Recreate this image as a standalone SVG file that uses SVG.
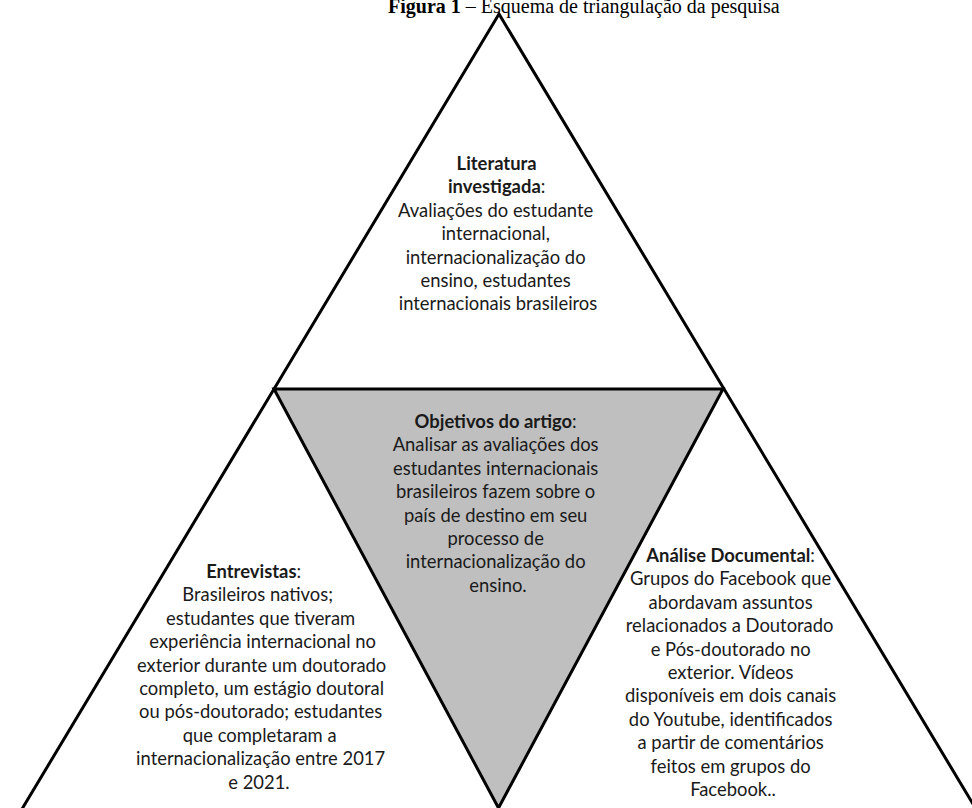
<svg xmlns="http://www.w3.org/2000/svg" width="972" height="808" viewBox="0 0 972 808">
  <style>
    .caption { font-family: "Liberation Serif", "Times New Roman", serif; font-size: 20px; fill: #000; }
    .label { font-family: Lato, "Liberation Sans", sans-serif; font-size: 18.4px; fill: #1a1a1a; text-anchor: middle; }
    .label .head { font-weight: bold; }
    .edge { stroke: #000; stroke-width: 3; stroke-linejoin: miter; }
  </style>
  <rect width="972" height="808" fill="#fff"/>

  <!-- Caption -->
  <g id="title">
    <text class="caption" x="388" y="13"><tspan font-weight="bold">Figura 1</tspan> – Esquema de triangulação da pesquisa</text>
  </g>

  <!-- Triangle frame -->
  <g id="shapes">
    <polygon id="outer" class="edge" fill="none" points="499,14 10,829 988,829"/>
    <polygon id="inner" class="edge" fill="#bfbfbf" points="274,389 723,389 498.5,808"/>
  </g>

  <g id="node-literatura">
    <text class="label">
      <tspan x="499" y="170" class="head">Literatura</tspan>
      <tspan x="499" y="193.4"><tspan class="head">investigada</tspan>:</tspan>
      <tspan x="498" y="216.8">Avaliações do estudante</tspan>
      <tspan x="498" y="240.2">internacional,</tspan>
      <tspan x="498" y="263.6">internacionalização do</tspan>
      <tspan x="498" y="287">ensino, estudantes</tspan>
      <tspan x="498" y="310.4">internacionais brasileiros</tspan>
    </text>
  </g>

  <g id="node-objetivos">
    <text class="label">
      <tspan x="498" y="428"><tspan class="head">Objetivos do artigo</tspan>:</tspan>
      <tspan x="498" y="451.4">Analisar as avaliações dos</tspan>
      <tspan x="498" y="474.8">estudantes internacionais</tspan>
      <tspan x="498" y="498.2">brasileiros fazem sobre o</tspan>
      <tspan x="498" y="521.6">país de destino em seu</tspan>
      <tspan x="498" y="545">processo de</tspan>
      <tspan x="498" y="568.4">internacionalização do</tspan>
      <tspan x="498" y="591.8">ensino.</tspan>
    </text>
  </g>

  <g id="node-entrevistas">
    <text class="label">
      <tspan x="256" y="578"><tspan class="head">Entrevistas</tspan>:</tspan>
      <tspan x="260" y="601.4">Brasileiros nativos;</tspan>
      <tspan x="263" y="624.8">estudantes que tiveram</tspan>
      <tspan x="265" y="648.2">experiência internacional no</tspan>
      <tspan x="264" y="671.6">exterior durante um doutorado</tspan>
      <tspan x="264" y="695">completo, um estágio doutoral</tspan>
      <tspan x="263" y="718.4">ou pós-doutorado; estudantes</tspan>
      <tspan x="262" y="741.8">que completaram a</tspan>
      <tspan x="263" y="765.2">internacionalização entre 2017</tspan>
      <tspan x="259" y="788.6">e 2021.</tspan>
    </text>
  </g>

  <g id="node-analise">
    <text class="label">
      <tspan x="733" y="562"><tspan class="head">Análise Documental</tspan>:</tspan>
      <tspan x="733" y="585.4">Grupos do Facebook que</tspan>
      <tspan x="733" y="608.8">abordavam assuntos</tspan>
      <tspan x="732" y="632.2">relacionados a Doutorado</tspan>
      <tspan x="733" y="655.6">e Pós-doutorado no</tspan>
      <tspan x="733" y="679">exterior. Vídeos</tspan>
      <tspan x="733" y="702.4">disponíveis em dois canais</tspan>
      <tspan x="733" y="725.8">do Youtube, identificados</tspan>
      <tspan x="733" y="749.2">a partir de comentários</tspan>
      <tspan x="733" y="772.6">feitos em grupos do</tspan>
      <tspan x="733" y="796">Facebook..</tspan>
    </text>
  </g>
</svg>
